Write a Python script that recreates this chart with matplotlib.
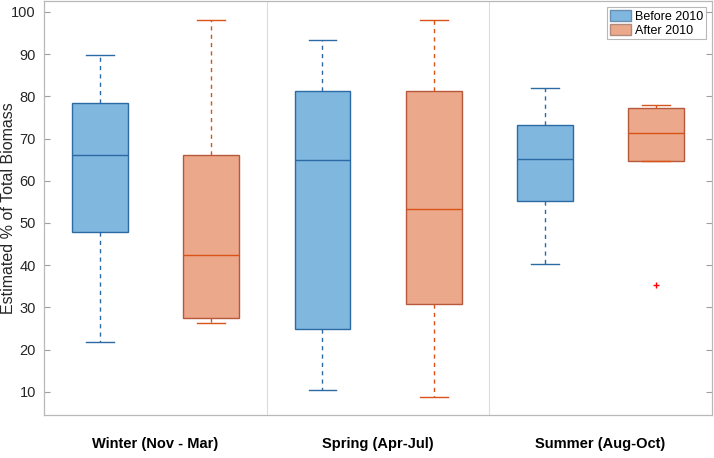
import matplotlib
matplotlib.use("Agg")
import matplotlib.pyplot as plt
from matplotlib.patches import Patch

plt.rcParams['font.family'] = ['Liberation Sans', 'DejaVu Sans']

#season groups
seasons = ['Winter (Nov - Mar)', 'Spring (Apr-Jul)', 'Summer (Aug-Oct)']

#box stats: low whisker, q1, median, q3, high whisker
before_lo = [21.8, 10.4, 40.3]
before_q1 = [47.8, 24.8, 55.3]
before_med = [66.0, 65.0, 65.1]
before_q3 = [78.5, 81.2, 73.1]
before_hi = [89.7, 93.4, 82.0]
before_out = [[], [], []]

after_lo = [26.2, 8.8, 64.7]
after_q1 = [27.5, 30.8, 64.7]
after_med = [42.5, 53.4, 71.2]
after_q3 = [66.2, 81.3, 77.2]
after_hi = [98.0, 98.0, 77.9]
after_out = [[], [], [35.2]]

blue_face = '#7FB7DF'
blue_edge = '#2C6AA3'
orange_face = '#ECA88A'
orange_edge = '#B8583A'
orange_line = '#D95319'


def make_stats(lo, q1, med, q3, hi, out):
    stats = []
    for i in range(len(lo)):
        stats.append({'whislo': lo[i], 'q1': q1[i], 'med': med[i], 'q3': q3[i],
                      'whishi': hi[i], 'fliers': out[i]})
    return stats


fig = plt.figure(figsize=(7.14, 4.58), dpi=100)
ax = fig.add_axes([0.062, 0.094, 0.935, 0.904])

pos = [1, 2, 3]
w = 0.25

#before 2010
ax.bxp(make_stats(before_lo, before_q1, before_med, before_q3, before_hi, before_out),
       positions=[p - 0.25 for p in pos], widths=w, patch_artist=True,
       boxprops=dict(facecolor=blue_face, edgecolor=blue_edge, linewidth=1.0),
       medianprops=dict(color=blue_edge, linewidth=1.0),
       whiskerprops=dict(color=blue_edge, linestyle=(0, (3, 3)), linewidth=1.0),
       capprops=dict(color=blue_edge, linewidth=1.0),
       capwidths=w / 2,
       flierprops=dict(marker='+', markeredgecolor='red', markersize=4, markeredgewidth=1))

#after 2010
ax.bxp(make_stats(after_lo, after_q1, after_med, after_q3, after_hi, after_out),
       positions=[p + 0.25 for p in pos], widths=w, patch_artist=True,
       boxprops=dict(facecolor=orange_face, edgecolor=orange_edge, linewidth=1.0),
       medianprops=dict(color=orange_line, linewidth=1.0),
       whiskerprops=dict(color=orange_line, linestyle=(0, (3, 3)), linewidth=1.0),
       capprops=dict(color=orange_line, linewidth=1.0),
       capwidths=w / 2,
       flierprops=dict(marker='+', markeredgecolor='red', markersize=4, markeredgewidth=1))

#group separators
for xsep in [1.5, 2.5]:
    ax.axvline(xsep, color='#dcdcdc', linewidth=0.8, zorder=0)

ax.set_xlim(0.5, 3.5)
ax.set_ylim(4.5, 102.6)
ax.set_yticks(range(10, 101, 10))
ax.set_xticks(pos)
ax.set_xticklabels(seasons, fontsize=10.5, fontweight='bold')
ax.tick_params(axis='x', length=0, pad=16)
ax.tick_params(axis='y', direction='in', right=True, length=4, color='#a0a0a0',
               labelsize=10.5, labelcolor='#262626', pad=6)
for s in ax.spines.values():
    s.set_color('#b8b8b8')
    s.set_linewidth(0.9)
ax.set_ylabel('Estimated % of Total Biomass', fontsize=11.5, color='#262626')
ax.yaxis.set_label_coords(-0.043, 0.5)

handles = [Patch(facecolor=blue_face, edgecolor='#6a8fb0', label='Before 2010'),
           Patch(facecolor=orange_face, edgecolor='#b08a7a', label='After 2010')]
leg = ax.legend(handles=handles, loc='upper right', fontsize=9, fancybox=False,
                framealpha=1, edgecolor='#b8b8b8', handlelength=1.7, handleheight=1.0,
                handletextpad=0.3, borderpad=0.2, labelspacing=0.1,
                bbox_to_anchor=(1.0, 1.0))
leg.get_frame().set_linewidth(0.8)

fig.savefig('out.png', dpi=100)
